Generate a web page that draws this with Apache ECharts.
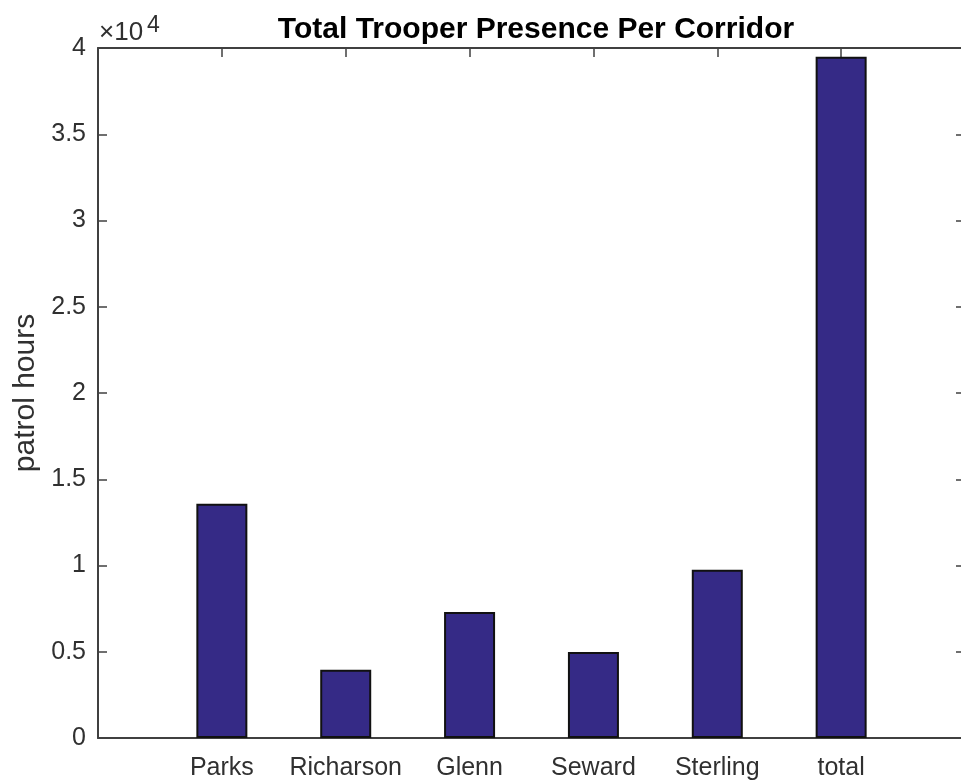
<!DOCTYPE html>
<head>
    <meta charset="UTF-8">
    <title>Total Trooper Presence Per Corridor</title>
    <script src="https://cdn.jsdelivr.net/npm/echarts@6/dist/echarts.min.js"></script>
    <style>
        html, body { margin: 0; padding: 0; background: #fff; overflow: hidden; }
        #main { width: 961px; height: 783px; }
    </style>
</head>
<body>
    <div id="main"></div>
    <script type="text/javascript">
        // corridor names and patrol hours
        var corridors = ['Parks', 'Richarson', 'Glenn', 'Seward', 'Sterling', 'total'];
        var hours = [13580, 3960, 7300, 4980, 9760, 39490];
        var yTicks = [0, 5000, 10000, 15000, 20000, 25000, 30000, 35000, 40000];

        var axisColor = '#404040';
        var textColor = '#303030';
        var font = '"Liberation Sans", Arial, sans-serif';

        var barData = [];
        for (var i = 0; i < hours.length; i++) {
            barData.push([i + 1, hours[i]]);
        }

        var myChart = echarts.init(document.getElementById('main'));

        function xLabel(v) {
            var idx = Math.round(v) - 1;
            return corridors[idx] !== undefined ? corridors[idx] : '';
        }

        var tickCommon = { show: true, inside: true, length: 9, lineStyle: { color: axisColor, width: 1.5 } };

        myChart.setOption({
            animation: false,
            backgroundColor: '#fff',
            title: {
                text: 'Total Trooper Presence Per Corridor',
                left: 531,
                textAlign: 'center',
                top: 10,
                textStyle: { fontFamily: font, fontSize: 30, fontWeight: 'bold', color: '#000' }
            },
            grid: { left: 98, top: 48, width: 867, height: 690, outerBoundsMode: 'none', containLabel: false },
            xAxis: [{
                type: 'value',
                min: 0, max: 7, interval: 1,
                position: 'bottom',
                splitLine: { show: false },
                axisLine: { show: true, onZero: false, lineStyle: { color: axisColor, width: 2 } },
                axisTick: tickCommon,
                axisLabel: { formatter: xLabel, fontFamily: font, fontSize: 25, color: textColor, margin: 18 }
            }, {
                type: 'value',
                min: 0, max: 7, interval: 1,
                position: 'top',
                splitLine: { show: false },
                axisLine: { show: true, onZero: false, lineStyle: { color: axisColor, width: 2 } },
                axisTick: tickCommon,
                axisLabel: { show: false }
            }],
            yAxis: [{
                type: 'value',
                min: 0, max: 40000, interval: 5000,
                name: 'patrol hours',
                nameLocation: 'middle',
                nameGap: 55,
                nameTextStyle: { fontFamily: font, fontSize: 30, color: textColor },
                splitLine: { show: false },
                axisLine: { show: true, onZero: false, lineStyle: { color: axisColor, width: 2 } },
                axisTick: tickCommon,
                axisLabel: {
                    fontFamily: font, fontSize: 25, color: textColor, margin: 12,
                    formatter: function (v) { return yTicks.indexOf(v) >= 0 ? String(v / 10000) : ''; }
                }
            }, {
                type: 'value',
                min: 0, max: 40000, interval: 5000,
                position: 'right',
                splitLine: { show: false },
                axisLine: { show: true, onZero: false, lineStyle: { color: axisColor, width: 2 } },
                axisTick: tickCommon,
                axisLabel: { show: false }
            }],
            graphic: [{
                type: 'text',
                left: 99, top: 20,
                style: { text: '\u00d710', font: '26px ' + font, fill: textColor }
            }, {
                type: 'text',
                left: 147, top: 14,
                style: { text: '4', font: '23px ' + font, fill: textColor }
            }],
            series: [{
                type: 'bar',
                xAxisIndex: 0,
                yAxisIndex: 0,
                barWidth: 51,
                data: barData,
                itemStyle: { color: '#352a86', borderColor: '#111', borderWidth: 2 }
            }]
        });
    </script>
</body>
